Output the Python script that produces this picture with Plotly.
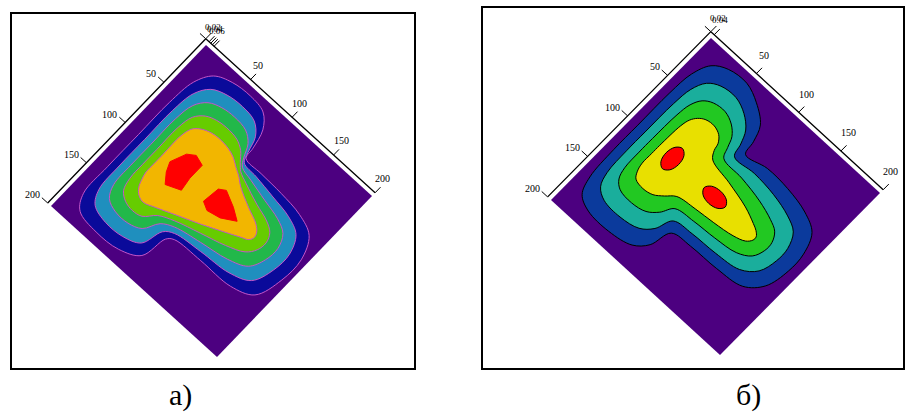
import plotly.graph_objects as go

# ---------------- data (contour boundaries, in plot units a, b) ----------------
# panel а) : levels from the outside inwards
left_L1 = [(12,100),(12,60),(15,32),(24,16),(40,9),(60,7),(78,10),(89,22),(94,40),(96,51),(115,52),(140,53),
           (165,56),(184,64),(194,85),(194,110),(186,136),(165,145),(130,146),(100,148),(94,153),(89,178),
           (70,188),(45,190),(22,186),(13,172),(12,140)]
left_L2 = [(19,99.5),(19,63.8),(22,40),(30.5,26.5),(44.5,20.5),(61.5,18.8),(78,21.3),(88.5,31),(93.5,46),
           (97.5,55),(113.8,57),(137,60.3),(159.3,64),(175,71.3),(183,88.3),(182.5,108.3),(175,128.5),
           (155.5,137),(124.3,140),(96.3,143.8),(87.5,150),(81,170),(65,177),(45,178),(28,173),
           (20.5,160),(19,132.5)]
left_L3 = [(26,99),(26,67.5),(29,48),(37,37),(49,32),(63,30.5),(78,32.5),(88,40),(94,52),(99,59),
           (112.5,62.5),(134,67.5),(153.5,72),(166,78.5),(172,91.5),(171,106.5),(164,121),(146,129),(118.5,134),
           (92.5,139.5),(81,146),(72.5,160),(60,165),(45,165),(33,160),(27,148),(26,125)]
left_L4 = [(33,98.5),(33,71.3),(36,56),(43.5,47.5),(53.5,43.5),(64.5,42.3),(78,43.8),(87.5,49),(94.8,57.3),
           (100.8,63),(111.3,67.5),(131,74.8),(147.8,80),(157,85.8),(161,94.8),(159.5,104.8),(153,113.5),
           (136.5,121),(112.8,128),(88.8,135.3),(74.5,142),(64.8,152),(55,154),(45,152),(37,146),
           (33.5,134),(33,117.5)]
left_L5 = [(40,98),(40,75),(43,64),(50,58),(58,55),(66,54),(78,55),(87,58),(95,63),(102,67),(110,73),(128,82),
           (142,88),(148,93),(150,98),(148,103),(142,106),(127,113),(107,122),(85,131),(68,138),(57,142),
           (50,140),(45,135),(42,128),(40,120),(40,110)]
left_peak1 = [(49,99),(55,84),(62,79),(72,82),(72,98),(74,111),(60,117),(53,108)]
left_peak2 = [(95,105),(97,88),(103,84),(118,91),(129,98),(116,106),(103,109)]
left_colors = ["#4c0080", "#0a0a9a", "#1f8fbe", "#22b84a", "#66cc00", "#f2b600", "#ff0000"]

# panel б)
right_L1 = [(8,100),(8,60),(10,35),(17,18),(30,10),(50,8),(68,15),(84,27),(90,42),(93,55),(115,51),(140,52),
            (165,57),(182,66),(190,85),(191,105),(186,128),(172,142),(145,146),(115,147),(95,150),(89,170),
            (78,181),(55,186),(30,185),(16,178),(10,162),(8,130)]
right_L2 = [(16.7,100),(17,65),(19,45.3),(25,32),(35.7,25.3),(52,23.7),(66.7,29.3),(78,39),(83.5,51),
            (87.5,63),(110,62),(135,64.3),(156.7,69.7),(170,76.7),(176.7,90.7),(177.3,105.3),(172.7,122.3),
            (159.7,133),(135,136.7),(108.3,138),(88.7,141),(82,156.7),(72,166),(53.3,170),(33.3,168.7),
            (22.7,162),(18,148.7),(16.7,123.3)]
right_L3 = [(25.3,100),(26,70),(28,55.7),(33,46),(41.3,40.7),(54,39.3),(65.3,43.7),(73.5,51.5),(77.5,61),
            (82,70.5),(105,72.5),(130,76.7),(148.3,82.3),(158,87.3),(163.3,96.3),(163.7,105.7),(159.3,116.7),
            (147.3,124),(125,127.3),(101.7,129),(82.3,132),(75,143.3),(66,151),(51.7,154),(36.7,152.3),
            (29.3,146),(26,135.3),(25.3,116.7)]
right_L4 = [(34,100),(35,75),(37,66),(41,60),(47,56),(56,55),(64,58),(69,64),(71,71),(76,78),(100,83),(125,89),
            (140,95),(146,98),(150,102),(150,106),(146,111),(135,115),(115,118),(95,120),(76,123),(68,130),
            (60,136),(50,138),(40,136),(36,130),(34,122),(34,110)]
right_peak1 = [(50,88.5),(55.3,92.2),(57.5,101),(55.3,109.8),(50,113.5),(44.7,109.8),(42.5,101),(44.7,92.2)]
right_peak2 = [(87.5,101),(91.2,95.7),(100,93.5),(108.8,95.7),(112.5,101),(108.8,106.3),(100,108.5),(91.2,106.3)]
right_colors = ["#4c0080", "#0b3a9c", "#1aae9c", "#22c822", "#e8e000", "#ff0000"]

axis_ticks = [50, 100, 150, 200]
ztick_left = ["0.02", "0.04", "0.06"]
ztick_right = ["0.02", "0.04"]
panel_labels = ["а)", "б)"]

# ---------------- geometry (pixel frame) ----------------
W, H = 906, 412
panels = [
    dict(T=(206, 45), R=(372, 196), L=(51, 206), frame=(11, 13, 415, 369), label_xy=(180, 395),
         levels=[left_L1, left_L2, left_L3, left_L4, left_L5], peaks=[left_peak1, left_peak2],
         colors=left_colors, line="#c455c8", peak_spline=False, lab_shift=(1, 3),
         zt=ztick_left, zticks=[0, 2, 4, 6], zshift=(0, 5), label=panel_labels[0]),
    dict(T=(711, 38), R=(880, 193), L=(551, 200), frame=(482, 7, 904, 369), label_xy=(748, 395),
         levels=[right_L1, right_L2, right_L3, right_L4], peaks=[right_peak1, right_peak2],
         colors=right_colors, line="#000000", peak_spline=True, lab_shift=(5, 3),
         zt=ztick_right, zticks=[0], zshift=(0, 7), label=panel_labels[1]),
]
AX_OFF = -4
TICK_END = -11


def make_map(T, R, L):
    def P(a, b):
        u, v = a / 200.0, b / 200.0
        return (T[0] + u * (R[0] - T[0]) + v * (L[0] - T[0]),
                T[1] + u * (R[1] - T[1]) + v * (L[1] - T[1]))
    return P


def grid_xy(P, A, Bv):
    return ([[P(a, b)[0] for a in A] for b in Bv], [[P(a, b)[1] for a in A] for b in Bv])


hidden = dict(showgrid=False, startline=False, endline=False, showticklabels="none", smoothing=0)
fig = go.Figure()
annotations, shapes = [], []
tick_font = dict(family="Liberation Serif", size=10, color="black")


def closed(pts):
    pts = list(pts) + [pts[0]]
    return [p[0] for p in pts], [p[1] for p in pts]


for k, p in enumerate(panels):
    P = make_map(p["T"], p["R"], p["L"])
    cid = f"c{k}"
    A = [0, 200]
    X, Y = grid_xy(P, A, A)
    fig.add_trace(go.Carpet(carpet=cid, a=A, b=A, x=X, y=Y, aaxis=hidden, baxis=hidden))
    fig.add_trace(go.Scattercarpet(carpet=cid, a=[0, 200, 200, 0, 0], b=[0, 0, 200, 200, 0],
                                   mode="lines", fill="toself", fillcolor=p["colors"][0],
                                   line=dict(width=0, color=p["colors"][0]), hoverinfo="skip"))
    for i, lev in enumerate(p["levels"]):
        aa, bb = closed(lev)
        fig.add_trace(go.Scattercarpet(
            carpet=cid, a=aa, b=bb, mode="lines", fill="toself", fillcolor=p["colors"][i + 1],
            line=dict(color=p["line"], width=1, shape="spline", smoothing=1), hoverinfo="skip"))
    for pk in p["peaks"]:
        aa, bb = closed(pk)
        fig.add_trace(go.Scattercarpet(
            carpet=cid, a=aa, b=bb, mode="lines", fill="toself", fillcolor=p["colors"][-1],
            line=dict(color=p["line"] if p["peak_spline"] else p["colors"][-1], width=1,
                      shape="spline" if p["peak_spline"] else "linear", smoothing=1),
            hoverinfo="skip"))

    a_strip = [AX_OFF] + p["zticks"] + axis_ticks
    b_strip = [TICK_END, AX_OFF]
    Xs, Ys = grid_xy(P, a_strip, b_strip)
    fig.add_trace(go.Carpet(
        carpet=cid + "a", a=a_strip, b=b_strip, x=Xs, y=Ys,
        aaxis=dict(tickmode="array", arraytick0=1, arraydtick=1, showgrid=True, gridcolor="black",
                   gridwidth=1, startline=False, endline=False, showticklabels="none", smoothing=0),
        baxis=dict(showgrid=False, startline=False, endline=True, endlinecolor="black",
                   endlinewidth=1.3, showticklabels="none", smoothing=0)))
    b_strip2 = [AX_OFF] + axis_ticks
    a_strip2 = [TICK_END, AX_OFF]
    Xs, Ys = grid_xy(P, a_strip2, b_strip2)
    fig.add_trace(go.Carpet(
        carpet=cid + "b", a=a_strip2, b=b_strip2, x=Xs, y=Ys,
        baxis=dict(tickmode="array", arraytick0=1, arraydtick=1, showgrid=True, gridcolor="black",
                   gridwidth=1, startline=False, endline=False, showticklabels="none", smoothing=0),
        aaxis=dict(showgrid=False, startline=False, endline=True, endlinecolor="black",
                   endlinewidth=1.3, showticklabels="none", smoothing=0)))

    for t in axis_ticks:
        x, y = P(t, TICK_END)
        annotations.append(dict(x=x, y=y, xref="x", yref="y", text=str(t), showarrow=False,
                                xanchor="center", yanchor="bottom", xshift=2, yshift=p["lab_shift"][0],
                                font=tick_font))
        x, y = P(TICK_END, t)
        annotations.append(dict(x=x, y=y, xref="x", yref="y", text=str(t), showarrow=False,
                                xanchor="right", yanchor="middle", xshift=0, yshift=p["lab_shift"][1],
                                font=tick_font))
    zx, zy = P(AX_OFF, AX_OFF)
    for i, s in enumerate(p["zt"]):
        annotations.append(dict(x=zx, y=zy, xref="x", yref="y", text=s, showarrow=False,
                                xanchor="left", yanchor="bottom",
                                xshift=p["zshift"][0] - 3 + 2 * i, yshift=p["zshift"][1] - 2 * i,
                                font=dict(family="Liberation Serif", size=9, color="black")))
    x0, y0, x1, y1 = p["frame"]
    shapes.append(dict(type="rect", xref="x", yref="y", x0=x0, y0=y0, x1=x1, y1=y1,
                       line=dict(color="black", width=2), fillcolor="rgba(0,0,0,0)"))
    annotations.append(dict(x=p["label_xy"][0], y=p["label_xy"][1], xref="x", yref="y",
                            text=p["label"], showarrow=False, xanchor="center", yanchor="middle",
                            font=dict(family="Liberation Serif", size=30, color="black")))

fig.update_layout(
    width=W, height=H, margin=dict(l=0, r=0, t=0, b=0),
    paper_bgcolor="white", plot_bgcolor="white", showlegend=False,
    xaxis=dict(range=[0, W], visible=False, fixedrange=True),
    yaxis=dict(range=[H, 0], visible=False, fixedrange=True),
    annotations=annotations, shapes=shapes,
)
fig.write_html("out.html")
